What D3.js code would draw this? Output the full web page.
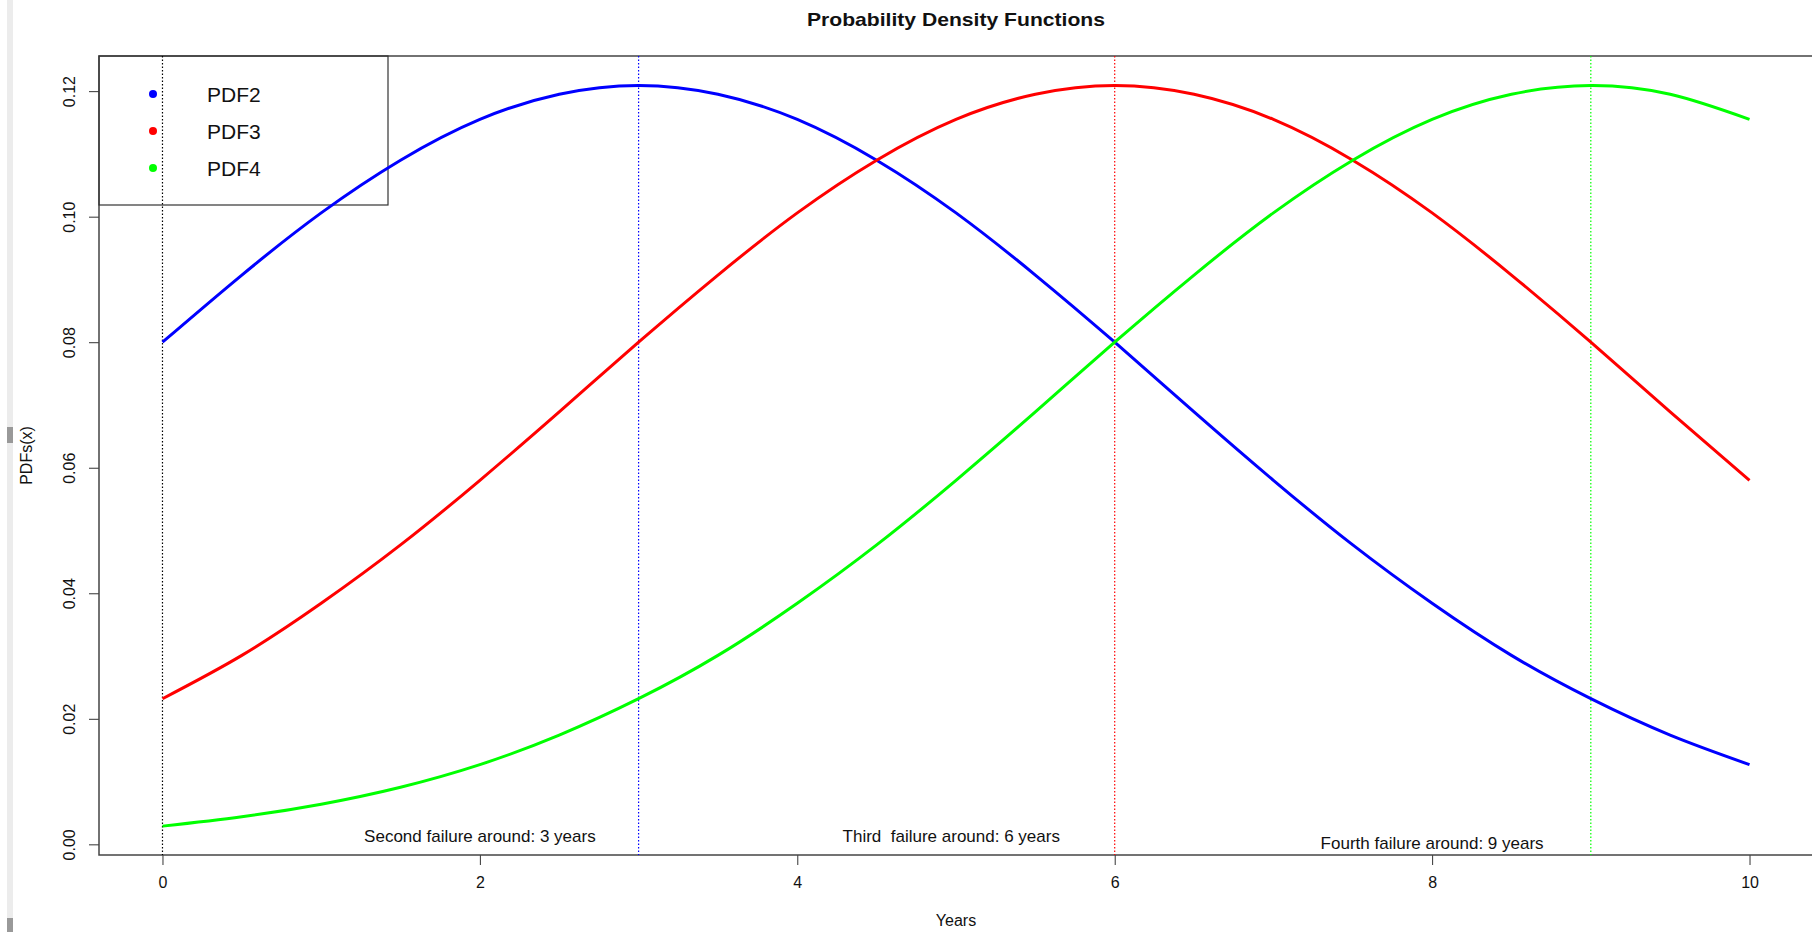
<!DOCTYPE html>
<html>
<head>
<meta charset="utf-8">
<script src="https://cdn.jsdelivr.net/npm/d3@7"></script>
<style>
  body { margin: 0; background: #fff; }
  svg { display: block; }
  text { font-family: "Liberation Sans", Arial, sans-serif; fill: #111; }
</style>
</head>
<body>
<script>
// years sampled every half year
let years = [0, 0.5, 1, 1.5, 2, 2.5, 3, 3.5, 4, 4.5, 5, 5.5, 6, 6.5, 7, 7.5, 8, 8.5, 9, 9.5, 10]

let pdf2 = [0.0800, 0.0907, 0.1006, 0.1090, 0.1155, 0.1195, 0.1209, 0.1195, 0.1155, 0.1090, 0.1006,
            0.0907, 0.0800, 0.0689, 0.0580, 0.0477, 0.0384, 0.0301, 0.0232, 0.0174, 0.0127]
let pdf3 = [0.0232, 0.0301, 0.0384, 0.0477, 0.0580, 0.0689, 0.0800, 0.0907, 0.1006, 0.1090, 0.1155,
            0.1195, 0.1209, 0.1195, 0.1155, 0.1090, 0.1006, 0.0907, 0.0800, 0.0689, 0.0580]
let pdf4 = [0.0029, 0.0044, 0.0064, 0.0091, 0.0127, 0.0174, 0.0232, 0.0301, 0.0384, 0.0477, 0.0580,
            0.0689, 0.0800, 0.0907, 0.1006, 0.1090, 0.1155, 0.1195, 0.1209, 0.1195, 0.1155]

let seriesNames = ["PDF2", "PDF3", "PDF4"]
let seriesColors = ["#0000ff", "#ff0000", "#00ff00"]

let xTicks = [0, 2, 4, 6, 8, 10]
let yTicks = [0.00, 0.02, 0.04, 0.06, 0.08, 0.10, 0.12]

// vertical markers and the notes under them
let markerYears = [0, 3, 6, 9]
let markerColors = ["#000000", "#0000ff", "#ff0000", "#00ff00"]
let notes = ["Second failure around: 3 years", "Third  failure around: 6 years", "Fourth failure around: 9 years"]
let noteX = [2, 4.97, 8]
let noteY = [0.0004, 0.0004, -0.0007]

const W = 1812, H = 932
const mLeft = 99, mRight = 1813, mTop = 56, mBottom = 855

let svg = d3.select('body')
    .append('svg')
    .attr('width', W)
    .attr('height', H)

// window chrome strip on the left
svg.append('rect').attr('x', 7).attr('y', 0).attr('width', 6).attr('height', H).style('fill', '#ececec')
svg.append('rect').attr('x', 7).attr('y', 427).attr('width', 6).attr('height', 16).style('fill', '#999')
svg.append('rect').attr('x', 7).attr('y', 918).attr('width', 6).attr('height', 14).style('fill', '#999')

let x = d3.scaleLinear().domain([-0.4, 10.4]).range([mLeft, mRight])
let y = d3.scaleLinear().domain([-0.0017, 0.1256]).range([mBottom, mTop])

// axes
let xAxis = svg.append('g')
    .attr('transform', `translate(0,${mBottom})`)
    .call(d3.axisBottom(x).tickValues(xTicks).tickFormat(d3.format('d')).tickSize(10).tickPadding(12))
xAxis.select('.domain').remove()
xAxis.selectAll('line').style('stroke', '#333')
xAxis.selectAll('text').style('font-size', '16px').style('fill', '#111')

let yAxis = svg.append('g')
    .attr('transform', `translate(${mLeft},0)`)
    .call(d3.axisLeft(y).tickValues(yTicks).tickFormat(d3.format('.2f')).tickSize(10))
yAxis.select('.domain').remove()
yAxis.selectAll('line').style('stroke', '#333')
yAxis.selectAll('text')
    .style('font-size', '16px').style('fill', '#111')
    .attr('text-anchor', 'middle')
    .attr('x', 0).attr('y', 0).attr('dy', 0)
    .attr('transform', 'translate(-24,0) rotate(-90)')

// plot frame
svg.append('rect')
    .attr('x', mLeft).attr('y', mTop)
    .attr('width', mRight - mLeft).attr('height', mBottom - mTop)
    .style('fill', 'none').style('stroke', '#444').style('stroke-width', 1.5)

// legend box
let lg = svg.append('g')
lg.append('rect')
    .attr('x', mLeft).attr('y', mTop)
    .attr('width', 289).attr('height', 149)
    .style('fill', 'none').style('stroke', '#333').style('stroke-width', 1.2)
seriesNames.forEach((n, i) => {
    lg.append('circle').attr('cx', 153).attr('cy', 94 + i * 37).attr('r', 4).style('fill', seriesColors[i])
    lg.append('text').attr('x', 207).attr('y', 94 + i * 37).attr('dy', '0.36em')
        .style('font-size', '21px').text(n)
})

// vertical dotted markers
markerYears.forEach((m, i) => {
    svg.append('line')
        .attr('x1', x(m)).attr('x2', x(m))
        .attr('y1', mTop).attr('y2', mBottom)
        .style('stroke', markerColors[i]).style('stroke-width', 1.2)
        .style('stroke-dasharray', '1.5,2')
})

// curves
let line = d3.line()
    .x((d, i) => x(years[i]))
    .y(d => y(d))
    .curve(d3.curveNatural)

;[pdf2, pdf3, pdf4].forEach((s, i) => {
    svg.append('path')
        .datum(s)
        .attr('d', line)
        .style('fill', 'none')
        .style('stroke', seriesColors[i])
        .style('stroke-width', 3)
})

// notes (keep the double space in "Third  failure")
notes.forEach((t, i) => {
    svg.append('text')
        .attr('x', x(noteX[i])).attr('y', y(noteY[i]))
        .attr('text-anchor', 'middle')
        .style('font-size', '17px')
        .style('white-space', 'pre')
        .text(t)
})

// titles
svg.append('text').attr('x', (mLeft + mRight) / 2).attr('y', 26)
    .attr('text-anchor', 'middle').style('font-size', '19px').style('font-weight', 'bold')
    .attr('textLength', 298).attr('lengthAdjust', 'spacingAndGlyphs')
    .text('Probability Density Functions')
svg.append('text').attr('x', (mLeft + mRight) / 2).attr('y', 926)
    .attr('text-anchor', 'middle').style('font-size', '16px')
    .text('Years')
svg.append('text').attr('transform', `translate(32,${(mTop + mBottom) / 2}) rotate(-90)`)
    .attr('text-anchor', 'middle').style('font-size', '16px')
    .text('PDFs(x)')
</script>
</body>
</html>
